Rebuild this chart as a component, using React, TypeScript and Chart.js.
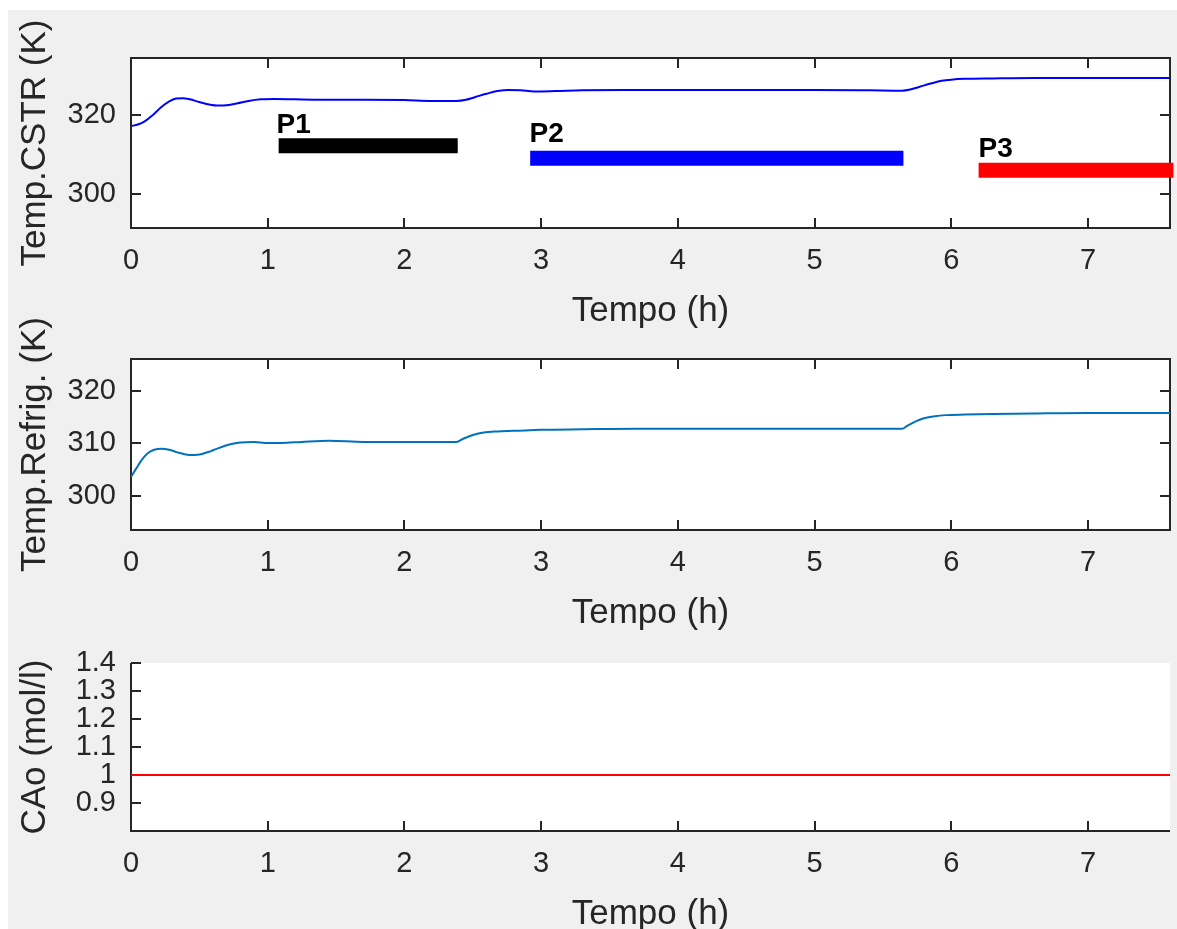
import React, { useEffect, useRef } from 'react';
import { Chart, registerables } from 'chart.js';

Chart.register(...registerables);

// ---------- data ----------
const X_MIN = 0;
const X_MAX = 7.6;
const X_TICKS = [0, 1, 2, 3, 4, 5, 6, 7];
const X_TICK_LABELS = ['0', '1', '2', '3', '4', '5', '6', '7'];

const T_CSTR = [0, 0.05, 0.1, 0.16, 0.22, 0.28, 0.33, 0.38, 0.43, 0.5, 0.57, 0.64, 0.7, 0.78, 0.86, 0.95, 1.05, 1.2, 1.4, 1.7, 2.0, 2.2, 2.38, 2.45, 2.52, 2.6, 2.68, 2.76, 2.85, 2.95, 3.1, 3.3, 3.6, 4.0, 4.5, 5.0, 5.4, 5.64, 5.7, 5.77, 5.85, 5.93, 6.0, 6.1, 6.3, 6.6, 7.0, 7.3, 7.6];
const TEMP_CSTR = [317.2, 317.6, 318.4, 320.0, 322.0, 323.5, 324.2, 324.3, 324.0, 323.3, 322.7, 322.4, 322.5, 323.0, 323.6, 324.0, 324.1, 324.0, 323.9, 323.9, 323.8, 323.6, 323.6, 323.9, 324.6, 325.4, 326.1, 326.4, 326.3, 326.0, 326.1, 326.3, 326.4, 326.4, 326.4, 326.4, 326.3, 326.2, 326.5, 327.2, 328.0, 328.7, 329.0, 329.2, 329.3, 329.4, 329.4, 329.4, 329.4];

const T_REFRIG = [0, 0.04, 0.08, 0.12, 0.17, 0.22, 0.28, 0.34, 0.4, 0.46, 0.52, 0.58, 0.65, 0.72, 0.8, 0.9, 1.0, 1.1, 1.25, 1.45, 1.7, 2.0, 2.2, 2.38, 2.43, 2.5, 2.58, 2.68, 2.8, 3.0, 3.3, 3.7, 4.2, 5.0, 5.64, 5.68, 5.74, 5.8, 5.88, 5.96, 6.1, 6.3, 6.6, 7.0, 7.6];
const TEMP_REFRIG = [303.6, 305.3, 306.9, 308.1, 308.8, 309.0, 308.8, 308.3, 307.9, 307.8, 308.0, 308.5, 309.2, 309.8, 310.2, 310.3, 310.1, 310.1, 310.3, 310.5, 310.3, 310.3, 310.3, 310.3, 310.9, 311.6, 312.1, 312.3, 312.4, 312.6, 312.7, 312.8, 312.8, 312.8, 312.8, 313.4, 314.2, 314.8, 315.2, 315.4, 315.5, 315.6, 315.7, 315.8, 315.8];

const T_CAO = [0, 7.6];
const CAO = [1, 1];

const CSTR_Y_TICKS = [300, 320];
const CSTR_Y_LABELS = ['300', '320'];
const REFRIG_Y_TICKS = [300, 310, 320];
const REFRIG_Y_LABELS = ['300', '310', '320'];
const CAO_Y_TICKS = [0.9, 1, 1.1, 1.2, 1.3, 1.4];
const CAO_Y_LABELS = ['0.9', '1', '1.1', '1.2', '1.3', '1.4'];

const PERIOD_LABELS = ['P1', 'P2', 'P3'];
const PERIOD_START = [1.08, 2.92, 6.2];
const PERIOD_END = [2.39, 5.65, 7.625];
const PERIOD_LEVEL = [312.2, 309.0, 306.0];
const PERIOD_LABEL_X = [1.065, 2.915, 6.2];
const PERIOD_LABEL_LEVEL = [315.4, 313.1, 309.3];
const PERIOD_COLORS = ['#000000', '#0000ff', '#ff0000'];

// ---------- styling ----------
const FONT = "'Liberation Sans', Arial, Helvetica, sans-serif";
const AXIS_COLOR = '#262626';
const CANVAS_W = 1169;

const pts = (xs: number[], ys: number[]) => xs.map((x, i) => ({ x, y: ys[i] }));

const matlabAxes = {
  id: 'matlabAxes',
  beforeDraw(chart: any) {
    const { ctx, chartArea: a } = chart;
    ctx.save();
    ctx.fillStyle = '#ffffff';
    ctx.fillRect(a.left, a.top, a.right - a.left, a.bottom - a.top);
    ctx.restore();
  },
  beforeDatasetsDraw(chart: any, _args: any, opts: any) {
    const { ctx, chartArea: a } = chart;
    const xs = chart.scales.x;
    const ys = chart.scales.y;
    const TL = 10;
    ctx.save();
    ctx.strokeStyle = AXIS_COLOR;
    ctx.lineWidth = 2;
    ctx.beginPath();
    if (opts.box) {
      ctx.rect(a.left, a.top, a.right - a.left, a.bottom - a.top);
    } else {
      ctx.moveTo(a.left, a.top);
      ctx.lineTo(a.left, a.bottom);
      ctx.lineTo(a.right, a.bottom);
    }
    xs.ticks.forEach((t: any) => {
      const px = Math.round(xs.getPixelForValue(t.value));
      ctx.moveTo(px, a.bottom);
      ctx.lineTo(px, a.bottom - TL);
      if (opts.box) {
        ctx.moveTo(px, a.top);
        ctx.lineTo(px, a.top + TL);
      }
    });
    ys.ticks.forEach((t: any) => {
      const py = Math.round(ys.getPixelForValue(t.value));
      ctx.moveTo(a.left, py);
      ctx.lineTo(a.left + TL, py);
      if (opts.box) {
        ctx.moveTo(a.right, py);
        ctx.lineTo(a.right - TL, py);
      }
    });
    ctx.stroke();
    ctx.restore();
  },
  afterDatasetsDraw(chart: any, _args: any, opts: any) {
    const { ctx, chartArea: a } = chart;
    const xs = chart.scales.x;
    const ys = chart.scales.y;
    ctx.save();
    // y-axis title
    ctx.translate(opts.titleX, (a.top + a.bottom) / 2);
    ctx.rotate(-Math.PI / 2);
    ctx.fillStyle = AXIS_COLOR;
    ctx.font = `35px ${FONT}`;
    ctx.textAlign = 'center';
    ctx.textBaseline = 'middle';
    ctx.fillText(opts.yTitle, 0, 0);
    ctx.restore();
    if (opts.periods) {
      ctx.save();
      ctx.fillStyle = '#000000';
      ctx.font = `bold 28px ${FONT}`;
      ctx.textAlign = 'left';
      ctx.textBaseline = 'alphabetic';
      PERIOD_LABELS.forEach((lbl, i) => {
        ctx.fillText(lbl, xs.getPixelForValue(PERIOD_LABEL_X[i]), ys.getPixelForValue(PERIOD_LABEL_LEVEL[i]));
      });
      ctx.restore();
    }
  },
};

type PanelCfg = {
  top: number;
  height: number;
  padTop: number;
  yMin: number;
  yMax: number;
  yTicks: number[];
  yLabels: string[];
  yTitle: string;
  datasets: any[];
  box: boolean;
  periods: boolean;
};

function buildConfig(cfg: PanelCfg): any {
  const tickFont = { family: FONT, size: 29 };
  return {
    type: 'line',
    data: { datasets: cfg.datasets },
    plugins: [matlabAxes],
    options: {
      animation: false,
      responsive: false,
      maintainAspectRatio: false,
      devicePixelRatio: 1,
      parsing: true,
      layout: { padding: { top: cfg.padTop, right: 7, bottom: 0, left: 0 } },
      plugins: {
        legend: { display: false },
        tooltip: { enabled: false },
        matlabAxes: { box: cfg.box, yTitle: cfg.yTitle, titleX: 27, periods: cfg.periods },
      },
      elements: { point: { radius: 0 } },
      scales: {
        x: {
          type: 'linear',
          min: X_MIN,
          max: X_MAX,
          afterBuildTicks: (s: any) => {
            s.ticks = X_TICKS.map((v) => ({ value: v }));
          },
          afterFit: (s: any) => {
            s.height = 104;
          },
          grid: { display: false, drawTicks: false },
          border: { display: false },
          ticks: {
            font: tickFont,
            color: AXIS_COLOR,
            padding: 16,
            maxRotation: 0,
            autoSkip: false,
            callback: (_v: any, i: number) => X_TICK_LABELS[i],
          },
          title: {
            display: true,
            text: 'Tempo (h)',
            font: { family: FONT, size: 35 },
            color: AXIS_COLOR,
            padding: 0,
          },
        },
        y: {
          type: 'linear',
          min: cfg.yMin,
          max: cfg.yMax,
          afterBuildTicks: (s: any) => {
            s.ticks = cfg.yTicks.map((v) => ({ value: v }));
          },
          afterFit: (s: any) => {
            s.width = 123;
          },
          grid: { display: false, drawTicks: false },
          border: { display: false },
          ticks: {
            font: tickFont,
            color: AXIS_COLOR,
            padding: 15,
            autoSkip: false,
            callback: (_v: any, i: number) => cfg.yLabels[i],
          },
        },
      },
    },
  };
}

function Panel({ cfg }: { cfg: PanelCfg }) {
  const ref = useRef<HTMLCanvasElement>(null);
  useEffect(() => {
    const chart = new Chart(ref.current as HTMLCanvasElement, buildConfig(cfg));
    return () => chart.destroy();
  }, []);
  return (
    <canvas
      ref={ref}
      width={CANVAS_W}
      height={cfg.height}
      style={{ position: 'absolute', left: 0, top: cfg.top, width: CANVAS_W, height: cfg.height, display: 'block' }}
    />
  );
}

const lineDs = (xs: number[], ys: number[], color: string) => ({
  data: pts(xs, ys),
  borderColor: color,
  borderWidth: 2,
  pointRadius: 0,
  fill: false,
  cubicInterpolationMode: 'monotone',
});

const periodDs = PERIOD_LABELS.map((lbl, i) => ({
  label: lbl,
  data: [
    { x: PERIOD_START[i], y: PERIOD_LEVEL[i] },
    { x: PERIOD_END[i], y: PERIOD_LEVEL[i] },
  ],
  borderColor: PERIOD_COLORS[i],
  borderWidth: 15,
  borderCapStyle: 'butt',
  pointRadius: 0,
  fill: false,
  clip: { left: 0, top: 0, right: 5, bottom: 0 },
}));

const PANELS: PanelCfg[] = [
  {
    top: 0,
    height: 322,
    padTop: 48,
    yMin: 291.3,
    yMax: 334.5,
    yTicks: CSTR_Y_TICKS,
    yLabels: CSTR_Y_LABELS,
    yTitle: 'Temp.CSTR (K)',
    datasets: [lineDs(T_CSTR, TEMP_CSTR, '#0000ff'), ...periodDs],
    box: true,
    periods: true,
  },
  {
    top: 290,
    height: 334,
    padTop: 59,
    yMin: 293.5,
    yMax: 326.1,
    yTicks: REFRIG_Y_TICKS,
    yLabels: REFRIG_Y_LABELS,
    yTitle: 'Temp.Refrig. (K)',
    datasets: [lineDs(T_REFRIG, TEMP_REFRIG, '#0072BD')],
    box: true,
    periods: false,
  },
  {
    top: 590,
    height: 335,
    padTop: 63,
    yMin: 0.8,
    yMax: 1.4,
    yTicks: CAO_Y_TICKS,
    yLabels: CAO_Y_LABELS,
    yTitle: 'CAo (mol/l)',
    datasets: [lineDs(T_CAO, CAO, '#ff0000')],
    box: false,
    periods: false,
  },
];

export default function App() {
  return (
    <div
      style={{
        position: 'absolute',
        left: 8,
        top: 10,
        width: CANVAS_W,
        height: 919,
        background: '#f0f0f0',
        overflow: 'hidden',
      }}
    >
      {PANELS.map((p, i) => (
        <Panel key={i} cfg={p} />
      ))}
    </div>
  );
}
